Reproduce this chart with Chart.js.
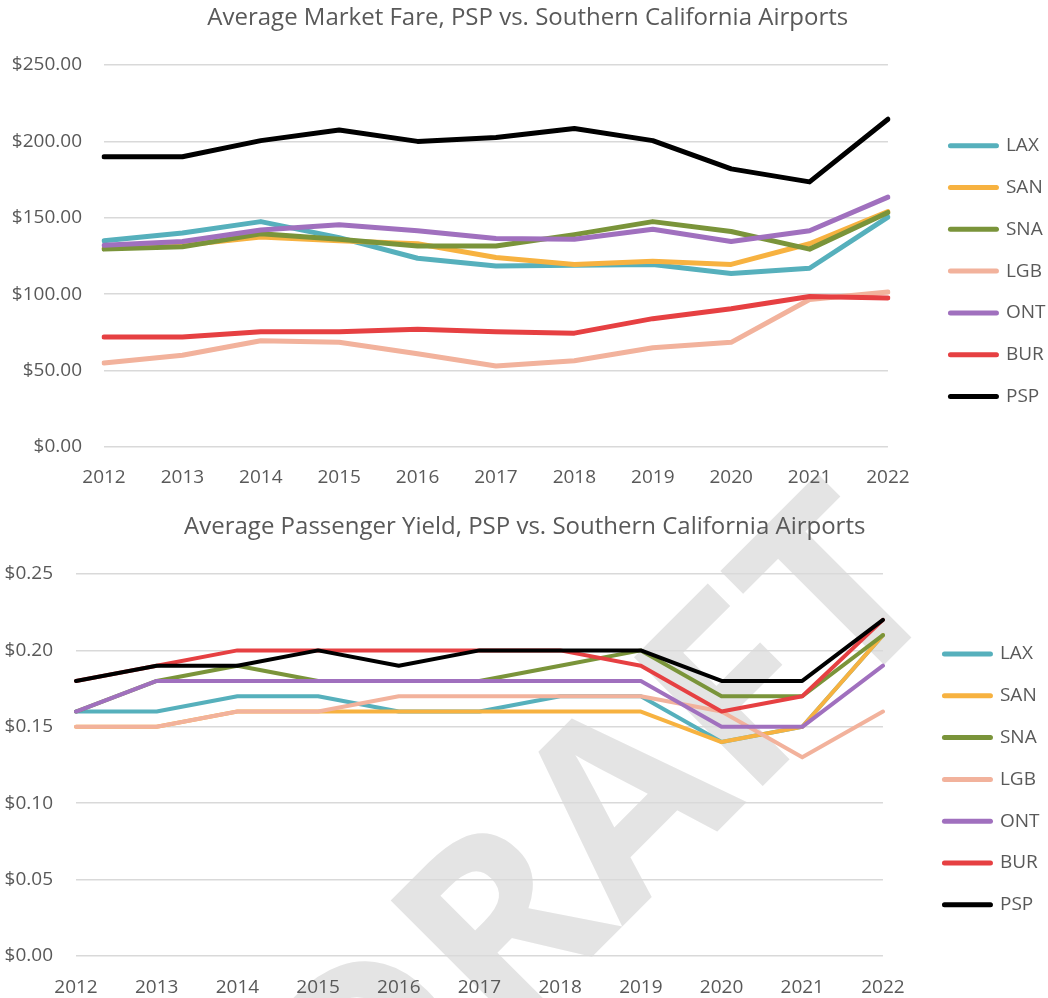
<!DOCTYPE html>
<html>
<head>
<meta charset="utf-8">
<script src="https://cdn.jsdelivr.net/npm/chart.js@4.4.1/dist/chart.umd.min.js"></script>
<style>
html, body { margin: 0; padding: 0; background: #fff; }
#wrap { position: relative; width: 1048px; height: 998px; overflow: hidden; }
#wm { position: absolute; left: 0; top: 0; z-index: 0; }
.box { position: absolute; left: 0; width: 1048px; z-index: 1; }
</style>
</head>
<body>
<div id="wrap">
  <canvas id="wm" width="1048" height="998"></canvas>
  <div class="box" style="top:0;height:500px"><canvas id="fare"></canvas></div>
  <div class="box" style="top:500px;height:498px"><canvas id="yield"></canvas></div>
</div>
<script>
const years = ['2012', '2013', '2014', '2015', '2016', '2017', '2018', '2019', '2020', '2021', '2022'];
const airports = ['LAX', 'SAN', 'SNA', 'LGB', 'ONT', 'BUR', 'PSP'];
const colors = ['#56b0bc', '#f7b240', '#7a943a', '#f2b29c', '#a070be', '#e64042', '#000000'];

// average market fare ($)
const fareLAX = [135, 140, 147.5, 137, 123.5, 118.5, 119, 119.5, 113.5, 117, 150.5];
const fareSAN = [130, 132, 137.5, 135, 133, 124, 119.5, 121.5, 119.5, 133, 154];
const fareSNA = [129.5, 131, 139.5, 136, 131.5, 131.5, 139, 147.5, 141, 129.5, 153.5];
const fareLGB = [55, 60, 69.5, 68.5, 61, 53, 56.5, 65, 68.5, 96.5, 101.5];
const fareONT = [132, 134.5, 142, 145.5, 141.5, 136.5, 136, 142.5, 134.5, 141.5, 163.5];
const fareBUR = [72, 72, 75.5, 75.5, 77, 75.5, 74.5, 84, 90.5, 98.5, 97.5];
const farePSP = [190, 190, 200.5, 207.5, 200, 202.5, 208.5, 200.5, 182, 173.5, 214.5];

// average passenger yield ($)
const yieldLAX = [0.16, 0.16, 0.17, 0.17, 0.16, 0.16, 0.17, 0.17, 0.14, 0.15, 0.21];
const yieldSAN = [0.15, 0.15, 0.16, 0.16, 0.16, 0.16, 0.16, 0.16, 0.14, 0.15, 0.21];
const yieldSNA = [0.16, 0.18, 0.19, 0.18, 0.18, 0.18, 0.19, 0.20, 0.17, 0.17, 0.21];
const yieldLGB = [0.15, 0.15, 0.16, 0.16, 0.17, 0.17, 0.17, 0.17, 0.16, 0.13, 0.16];
const yieldONT = [0.16, 0.18, 0.18, 0.18, 0.18, 0.18, 0.18, 0.18, 0.15, 0.15, 0.19];
const yieldBUR = [0.18, 0.19, 0.20, 0.20, 0.20, 0.20, 0.20, 0.19, 0.16, 0.17, 0.22];
const yieldPSP = [0.18, 0.19, 0.19, 0.20, 0.19, 0.20, 0.20, 0.20, 0.18, 0.18, 0.22];

const fareTicks = { min: 0, max: 250, step: 50 };
const yieldTicks = { min: 0, max: 0.25, step: 0.05 };

const grey = '#595959';
const font = 'Open Sans';
Chart.defaults.color = grey;
Chart.defaults.font.family = font;

function drawWatermark() {
  const c = document.getElementById('wm').getContext('2d');
  const size = 255;
  c.font = '700 ' + size + 'px "' + font + '"';
  const wDR = c.measureText('DR').width;
  const wA = c.measureText('A').width;
  c.save();
  c.translate(620, 800);
  c.rotate(-Math.PI / 4);
  c.fillStyle = '#e4e4e4';
  c.fillText('DRAFT', -(wDR + wA / 2), size * 0.714 / 2);
  c.restore();
}

function buildChart(id, o) {
  return new Chart(document.getElementById(id), {
    type: 'line',
    data: {
      labels: years,
      datasets: airports.map((name, i) => ({
        label: name,
        data: o.series[i],
        borderColor: colors[i],
        backgroundColor: colors[i],
        borderWidth: o.lineWidth,
        borderJoinStyle: 'round',
        borderCapStyle: 'round',
        pointRadius: 0,
        tension: 0,
        order: airports.length - i
      }))
    },
    options: {
      responsive: true,
      maintainAspectRatio: false,
      animation: false,
      events: [],
      layout: { padding: { left: 0, right: o.padRight, top: 0, bottom: 0 } },
      plugins: {
        title: {
          display: true,
          text: o.title,
          color: grey,
          font: { size: 24, weight: 'normal' },
          padding: { top: o.titleTop, bottom: o.titleBottom }
        },
        legend: {
          position: 'right',
          align: 'start',
          fullSize: false,
          title: { display: true, text: '', font: { size: 10, lineHeight: 1 }, padding: { top: o.legendShift, bottom: 0 } },
          labels: {
            usePointStyle: true,
            pointStyle: 'line',
            pointStyleWidth: 46,
            padding: 22.8,
            color: grey,
            font: { size: 19 },
            sort: (a, b) => a.datasetIndex - b.datasetIndex,
            generateLabels: chart => Chart.defaults.plugins.legend.labels.generateLabels(chart)
              .map(item => Object.assign(item, { lineWidth: 5, lineCap: 'round' }))
          }
        },
        tooltip: { enabled: false }
      },
      scales: {
        x: {
          grid: { display: false },
          border: { display: false },
          ticks: { autoSkip: false, maxRotation: 0, padding: o.xPad, font: { size: 19 } },
          afterFit: s => { s.height = o.xHeight; }
        },
        y: {
          min: o.ticks.min,
          max: o.ticks.max,
          grid: { color: '#d9d9d9', lineWidth: 1.6, drawTicks: false },
          border: { display: false },
          ticks: { stepSize: o.ticks.step, padding: o.yPad, font: { size: 19 }, callback: v => '$' + v.toFixed(2) },
          afterFit: s => { s.width = o.yWidth; }
        },
        gap: {
          position: 'right',
          display: true,
          grid: { display: false, drawTicks: false },
          border: { display: false },
          ticks: { display: false },
          afterFit: s => { s.width = o.gapWidth; }
        }
      }
    }
  });
}

drawWatermark();

buildChart('fare', {
  title: 'Average Market Fare, PSP vs. Southern California Airports',
  series: [fareLAX, fareSAN, fareSNA, fareLGB, fareONT, fareBUR, farePSP],
  ticks: fareTicks,
  lineWidth: 5,
  padRight: -7.5,
  titleTop: 3.6, titleBottom: 32.6,
  legendShift: 38.4,
  xPad: 11, xHeight: 53,
  yPad: 22, yWidth: 104,
  gapWidth: 39.7
});

buildChart('yield', {
  title: 'Average Passenger Yield, PSP vs. Southern California Airports',
  series: [yieldLAX, yieldSAN, yieldSNA, yieldLGB, yieldONT, yieldBUR, yieldPSP],
  ticks: yieldTicks,
  lineWidth: 4,
  padRight: -1.5,
  titleTop: 12.6, titleBottom: 32.6,
  legendShift: 37.7,
  xPad: 12, xHeight: 42,
  yPad: 23, yWidth: 76,
  gapWidth: 38.7
});
</script>
</body>
</html>
